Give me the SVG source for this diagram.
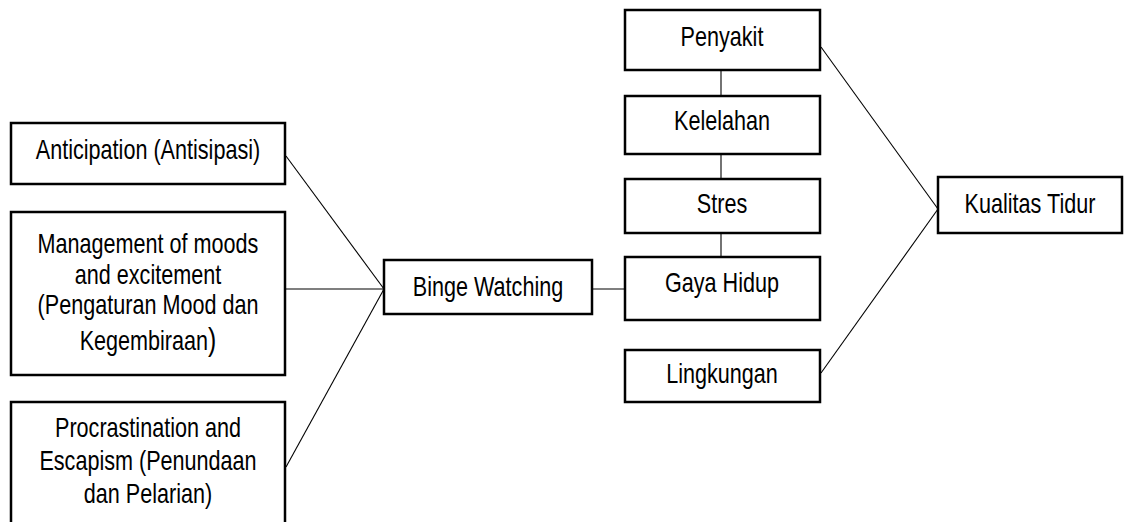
<svg xmlns="http://www.w3.org/2000/svg" width="1126" height="522" viewBox="0 0 1126 522">
<style>
.box{fill:#fff;stroke:#000;stroke-width:2.5}
.lbl{font-family:"Liberation Sans",Arial,sans-serif;font-size:27px;fill:#000;text-anchor:middle}
.con{stroke:#000;stroke-width:1.1;fill:none}
</style>
<rect width="1126" height="522" fill="#fff"/>
<g id="connectors">
<line class="con" x1="286" y1="156" x2="384" y2="289"/>
<line class="con" x1="286" y1="289" x2="384" y2="289"/>
<line class="con" x1="286" y1="467" x2="384" y2="289"/>
<line class="con" x1="592" y1="289" x2="625" y2="289" stroke="#333"/>
<line class="con" x1="721" y1="70" x2="721" y2="96"/>
<line class="con" x1="721" y1="154" x2="721" y2="179"/>
<line class="con" x1="721" y1="233" x2="721" y2="257"/>
<line class="con" x1="821" y1="47" x2="938" y2="209"/>
<line class="con" x1="821" y1="373" x2="938" y2="209"/>
</g>
<g id="anticipation">
<rect class="box" x="11" y="123" width="274" height="61"/>
<text class="lbl" transform="matrix(0.8 0 0 1 148 0)" x="0" y="159">Anticipation (Antisipasi)</text>
</g>
<g id="management">
<rect class="box" x="11" y="212" width="274" height="163"/>
<text class="lbl" transform="matrix(0.8 0 0 1 148 0)"><tspan x="0" y="253">Management of moods</tspan><tspan x="0" y="284">and excitement</tspan><tspan x="0" y="314">(Pengaturan Mood dan</tspan><tspan x="0" y="350">Kegembiraan<tspan style="font-size:31px">)</tspan></tspan></text>
</g>
<g id="procrastination">
<rect class="box" x="11" y="402" width="274" height="125"/>
<text class="lbl" transform="matrix(0.8 0 0 1 148 0)"><tspan x="0" y="437">Procrastination and</tspan><tspan x="0" y="470">Escapism (Penundaan</tspan><tspan x="0" y="503">dan Pelarian)</tspan></text>
</g>
<g id="binge">
<rect class="box" x="384" y="260" width="208" height="54"/>
<text class="lbl" transform="matrix(0.8 0 0 1 488 0)" x="0" y="296">Binge Watching</text>
</g>
<g id="penyakit">
<rect class="box" x="625" y="10" width="195" height="60"/>
<text class="lbl" transform="matrix(0.8 0 0 1 722 0)" x="0" y="46">Penyakit</text>
</g>
<g id="kelelahan">
<rect class="box" x="625" y="96" width="195" height="58"/>
<text class="lbl" transform="matrix(0.8 0 0 1 722 0)" x="0" y="130">Kelelahan</text>
</g>
<g id="stres">
<rect class="box" x="625" y="179" width="195" height="54"/>
<text class="lbl" transform="matrix(0.8 0 0 1 722 0)" x="0" y="213">Stres</text>
</g>
<g id="gayahidup">
<rect class="box" x="625" y="257" width="195" height="63"/>
<text class="lbl" transform="matrix(0.8 0 0 1 722 0)" x="0" y="292">Gaya Hidup</text>
</g>
<g id="lingkungan">
<rect class="box" x="625" y="350" width="195" height="52"/>
<text class="lbl" transform="matrix(0.8 0 0 1 722 0)" x="0" y="383">Lingkungan</text>
</g>
<g id="kualitas">
<rect class="box" x="938" y="177" width="184" height="56"/>
<text class="lbl" transform="matrix(0.8 0 0 1 1030 0)" x="0" y="213">Kualitas Tidur</text>
</g>
</svg>
